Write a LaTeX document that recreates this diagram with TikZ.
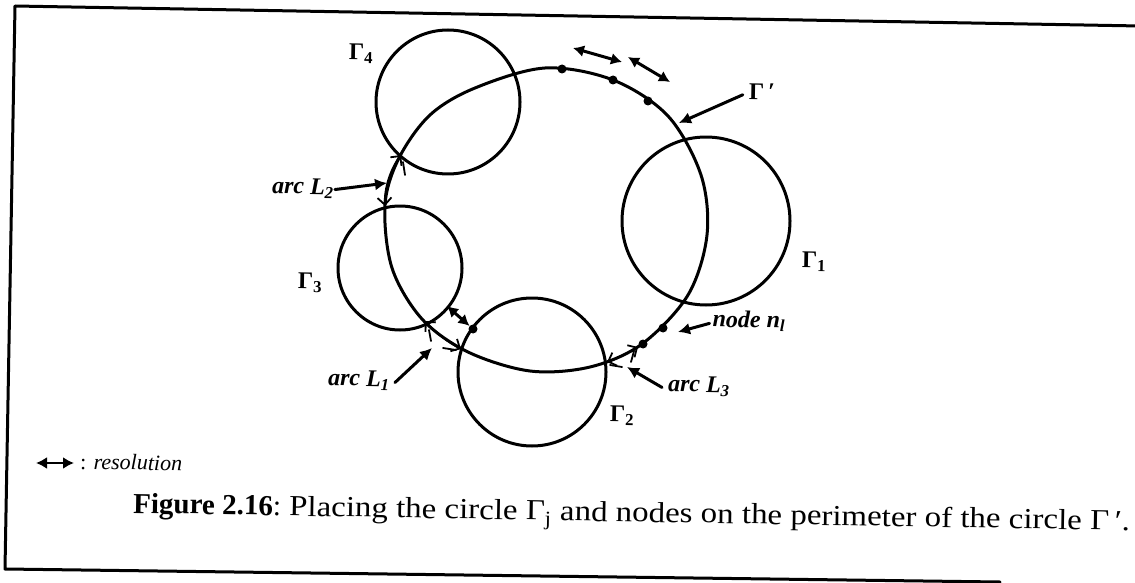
\documentclass[tikz,border=0pt]{standalone}
\usepackage{graphicx}
\usepackage{fontspec}
\setmainfont{Liberation Serif}
\usetikzlibrary{arrows.meta}
\begin{document}
\begin{tikzpicture}[x=1pt,y=-1pt,
  line cap=round, line join=round,
  ring/.style={line width=3pt},
  dotmark/.style={circle,fill=black,inner sep=0pt,minimum size=9pt},
  res/.style={line width=3pt,{Latex[length=11pt,width=12pt]}-{Latex[length=11pt,width=12pt]}},
  pointer/.style={line width=3pt,-{Latex[length=12pt,width=12pt]}},
  arcmark/.style={line width=1.8pt,{Straight Barb[length=7pt,width=14pt]}-{Straight Barb[length=7pt,width=14pt]}},
  tick/.style={line width=1.8pt},
  gl/.style={font=\fontsize{24}{26}\selectfont\bfseries, inner sep=0pt, rotate=-1},
  il/.style={font=\fontsize{24}{26}\selectfont\bfseries\itshape, inner sep=0pt, rotate=-1},
]
\useasboundingbox (0,0) rectangle (1135,583);
% frame
\draw[line width=3pt] (1140,26) -- (15,6) -- (5,569) -- (1000,582);
% circles
\node[ring,circle,draw,minimum size=144pt,inner sep=0pt] (G4) at (448,102) {};
\node[ring,circle,draw,minimum size=124pt,inner sep=0pt] (G3) at (400,268) {};
\node[ring,circle,draw,minimum size=148pt,inner sep=0pt] (G2) at (532,372) {};
\node[ring,circle,draw,minimum size=168pt,inner sep=0pt] (G1) at (706,221) {};
% big circle Gamma'
\draw[ring] plot[smooth cycle, tension=0.55] coordinates {
 (545,68) (613,80) (668,116) (701,175) (707,235) (688,295) (642,344)
 (590,367) (530,371) (468,352) (422,319) (392,268) (385,205) (399,158) (430,115) (475,88)};
% nodes on Gamma'
\node[dotmark] (d1) at (562,69) {};
\node[dotmark] (d2) at (613,80) {};
\node[dotmark] (d3) at (648,101) {};
\node[dotmark] (d4) at (663,328) {};
\node[dotmark] (d5) at (643,344) {};
\node[dotmark] (d6) at (473,329) {};
% resolution arrows
\coordinate (ra1) at (573,48); \coordinate (ra2) at (622,62);
\coordinate (rb1) at (628,57); \coordinate (rb2) at (670,82);
\coordinate (rc1) at (447,306);
\draw[res] (ra1) -- (ra2);
\draw[res] (rb1) -- (rb2);
\draw[res] (rc1) -- (d6);
% arcs L1 L2 L3
\coordinate (a2s) at (385,206); \coordinate (a2e) at (401,155);
\draw[arcmark] (a2s) .. controls (384,188) and (391,168) .. (a2e);
\coordinate (a1s) at (425,321); \coordinate (a1e) at (461,349);
\draw[arcmark] (a1s) .. controls (436,333) and (448,342) .. (a1e);
\coordinate (a3s) at (607,362); \coordinate (a3e) at (638,347);
\draw[arcmark] (a3s) .. controls (618,358) and (628,353) .. (a3e);
% ticks
\draw[tick] (403,162) -- (405,175);
\draw[tick] (429,330) -- (431,341);
\draw[tick] (443,348) -- (456,350);
\draw[tick] (634,351) -- (631,362);
\draw[tick] (610,365) -- (622,367);
% labels
\node[gl] (lG4) at (361,54) {Γ\textsubscript{4}};
\node[gl] (lG3) at (310,283) {Γ\textsubscript{3}};
\node[gl] (lG2) at (622,416) {Γ\textsubscript{2}};
\node[gl] (lG1) at (814,262) {Γ\textsubscript{1}};
\node[gl] (lGp) at (762,92) {Γ\,′};
\coordinate (pGp) at (679,123);
\draw[pointer] (lGp.west) ++(-6,3) -- (pGp);
\node[il] (lL2) at (303,188) {arc L\textsubscript{2}};
\coordinate (pL2) at (387,183);
\draw[pointer] (lL2.east) ++(1,1) -- (pL2);
\node[il] (lL1) at (359,380) {arc L\textsubscript{1}};
\coordinate (pL1) at (432,348);
\draw[pointer] (lL1.east) ++(5,2) -- (pL1);
\node[il] (lL3) at (699,386) {arc L\textsubscript{3}};
\coordinate (pL3) at (627,367);
\draw[pointer] (lL3.west) ++(-6,2) -- (pL3);
\node[il] (ln1) at (749,321) {node n\textsubscript{\itshape l}};
\coordinate (pn1) at (678,332);
\draw[pointer] (ln1.west) ++(-3,3) -- (pn1);
% legend
\coordinate (lega) at (36,463); \coordinate (legb) at (74,463);
\draw[res, line width=2.6pt] (lega) -- (legb);
\node[anchor=base west, inner sep=0pt, font=\fontsize{22}{24}\selectfont, rotate=-1] (legt) at (80,469) {: \textit{resolution}};
% caption
\node[anchor=base west, inner sep=0pt, font=\fontsize{29}{32}\selectfont, rotate=-1] (cap) at (133,513)
 {\textbf{Figure 2.16}:\scalebox{1.135}[1]{ Placing the circle Γ\textsubscript{j} and nodes on the perimeter of the circle Γ\,′.}};
\end{tikzpicture}
\end{document}
